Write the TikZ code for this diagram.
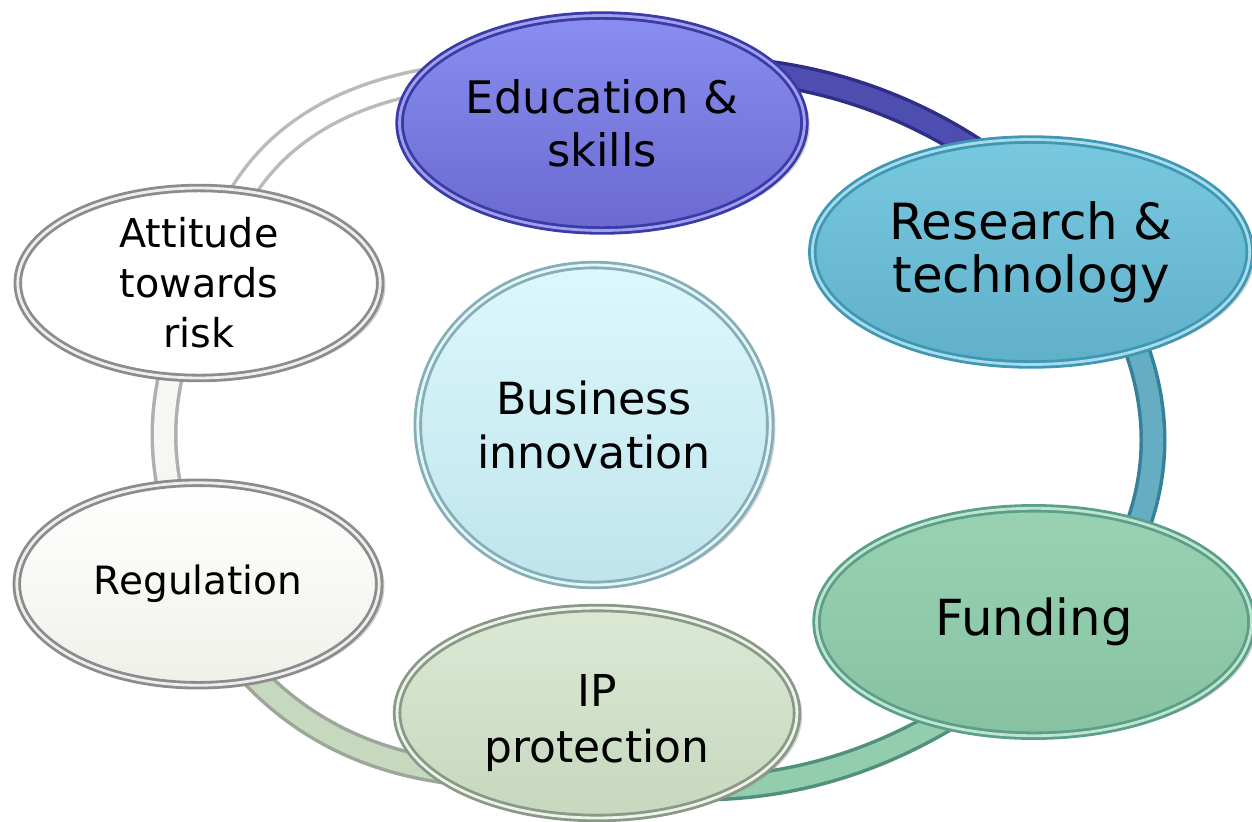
\documentclass[tikz,border=0pt]{standalone}
\usepackage{fontspec}
\setmainfont{DejaVu Sans}
\usetikzlibrary{shapes.geometric,shadows,backgrounds,calc}

\definecolor{eduRim}{HTML}{3A3AA8}
\definecolor{eduHi}{HTML}{A0A0EC}
\definecolor{eduTop}{HTML}{8A8EF0}
\definecolor{eduBot}{HTML}{6A6AD0}
\definecolor{resRim}{HTML}{3E98B4}
\definecolor{resHi}{HTML}{A8DCEC}
\definecolor{resTop}{HTML}{78C8E0}
\definecolor{resBot}{HTML}{60B0CA}
\definecolor{funRim}{HTML}{5AA088}
\definecolor{funHi}{HTML}{C0E4D0}
\definecolor{funTop}{HTML}{98D2B2}
\definecolor{funBot}{HTML}{86C2A2}
\definecolor{ipRim}{HTML}{8A9888}
\definecolor{ipHi}{HTML}{ECF2E8}
\definecolor{ipTop}{HTML}{DCE8D4}
\definecolor{ipBot}{HTML}{C6D8BE}
\definecolor{greyRim}{HTML}{8C8C8C}
\definecolor{greyHi}{HTML}{EEEEEE}
\definecolor{regBot}{HTML}{F0F0EA}
\definecolor{busRim}{HTML}{86AEB6}
\definecolor{busHi}{HTML}{E2F6FA}
\definecolor{busTop}{HTML}{DCF8FC}
\definecolor{busBot}{HTML}{C0E4EC}

\begin{document}
\begin{tikzpicture}[x=0.02cm,y=-0.02cm,
	bubble/.style 2 args={ellipse,draw=#1,double=#2,line width=1.6pt,double distance=1.6pt,
		drop shadow={opacity=0.35,shadow xshift=3pt,shadow yshift=-1.5pt},
		align=center,inner sep=0pt},
	ringseg/.style 2 args={line width=0.4cm,draw=#2,line cap=butt,
		preaction={draw=#1,line width=0.54cm}}]

	\useasboundingbox (0,0) rectangle (1252,822);

	% the seven bubbles
	\node (edu) [bubble={eduRim}{eduHi},top color=eduTop,bottom color=eduBot,
		minimum width=8.1cm,minimum height=4.3cm,font=\fontsize{25.5}{30}\selectfont] at (602,123)
		{Education \&\\skills};
	\node (res) [bubble={resRim}{resHi},top color=resTop,bottom color=resBot,
		minimum width=8.75cm,minimum height=4.5cm,font=\fontsize{28.4}{30}\selectfont] at (1031,252)
		{Research \&\\technology};
	\node (fun) [bubble={funRim}{funHi},top color=funTop,bottom color=funBot,
		minimum width=8.7cm,minimum height=4.55cm,font=\fontsize{28.3}{32}\selectfont] at (1034,622)
		{Funding};
	\node (ip) [bubble={ipRim}{ipHi},top color=ipTop,bottom color=ipBot,
		minimum width=8.0cm,minimum height=4.2cm,text height=62pt,font=\fontsize{25}{32}\selectfont] at (597,713)
		{IP\\protection};
	\node (reg) [bubble={greyRim}{greyHi},top color=white,bottom color=regBot,
		minimum width=7.25cm,minimum height=4.05cm,font=\fontsize{22.2}{28}\selectfont] at (198,584)
		{Regulation};
	\node (att) [bubble={greyRim}{greyHi},fill=white,
		minimum width=7.25cm,minimum height=3.8cm,font=\fontsize{22.6}{28.5}\selectfont] at (199,283)
		{Attitude\\towards\\risk};
	\node (bus) [bubble={busRim}{busHi},top color=busTop,bottom color=busBot,
		minimum width=7.05cm,minimum height=6.4cm,font=\fontsize{25.2}{31}\selectfont] at (594,425)
		{Business\\innovation};

	% ends of the ring pieces, inside the bubbles
	\coordinate (eduR) at (700,68);
	\coordinate (resL) at (1010,175);
	\coordinate (resB) at (1115,300);
	\coordinate (funT) at (1115,575);
	\coordinate (funL) at (990,690);
	\coordinate (ipR) at (690,788);
	\coordinate (ipL) at (490,775);
	\coordinate (regB) at (235,655);
	\coordinate (regT) at (172,500);
	\coordinate (attB) at (172,370);
	\coordinate (attT) at (230,215);
	\coordinate (eduL) at (470,75);

	% ring behind the bubbles
	\begin{scope}[on background layer]
		\fill[white] (0,0) rectangle (1252,822);
		\draw[ringseg={eduRim!80!black}{eduRim!90!white}]
			(eduR) .. controls ($(eduR)!2/3!(875,70.5)$) and ($(resL)!2/3!(875,70.5)$) .. (resL);
		\draw[ringseg={resRim!85!black}{resRim!80!white}]
			(resB) .. controls ($(resB)!2/3!(1191,442.5)$) and ($(funT)!2/3!(1191,442.5)$) .. (funT);
		\draw[ringseg={funRim!90!black}{funTop!90!funRim}]
			(funL) .. controls ($(funL)!2/3!(850,791)$) and ($(ipR)!2/3!(850,791)$) .. (ipR);
		\draw[ringseg={ipRim!85!white}{ipBot}]
			(ipL) .. controls ($(ipL)!2/3!(327.5,769)$) and ($(regB)!2/3!(327.5,769)$) .. (regB);
		\draw[ringseg={greyRim!70!white}{regBot!60!white}]
			(regT) .. controls ($(regT)!2/3!(156,435)$) and ($(attB)!2/3!(156,435)$) .. (attB);
		\draw[ringseg={greyRim!60!white}{white}]
			(attT) .. controls ($(attT)!2/3!(290,91)$) and ($(eduL)!2/3!(290,91)$) .. (eduL);
	\end{scope}
\end{tikzpicture}
\end{document}
